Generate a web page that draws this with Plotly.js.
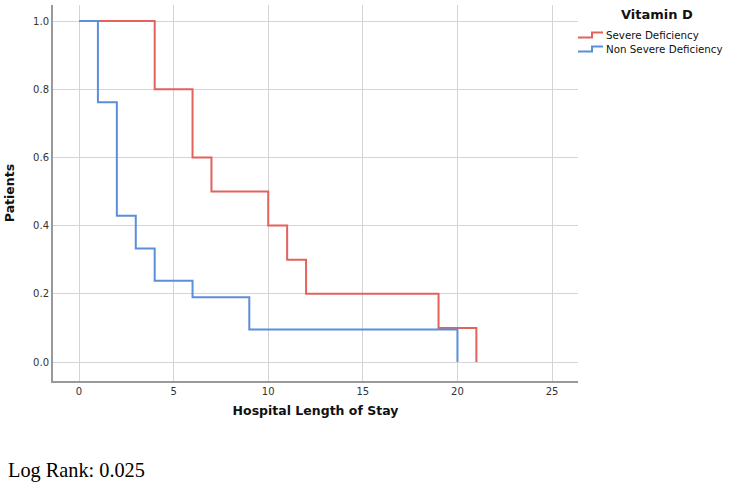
<!DOCTYPE html>
<html>
<head>
<meta charset="utf-8">
<script src="https://cdn.plot.ly/plotly-3.0.1.min.js"></script>
<style>
  html, body { margin: 0; padding: 0; background: #fff; }
  #chart { width: 740px; height: 488px; }
</style>
</head>
<body>
<div id="chart"></div>
<script>
// Kaplan-Meier style step data
const seriesNames = ["Severe Deficiency", "Non Severe Deficiency"];
const severeDays = [0, 4, 6, 7, 10, 11, 12, 19, 21];
const severeSurv = [1.0, 0.8, 0.6, 0.5, 0.4, 0.3, 0.2, 0.1, 0.0];
const nonSevereDays = [0, 1, 2, 3, 4, 6, 9, 20];
const nonSevereSurv = [1.0, 0.762, 0.429, 0.333, 0.238, 0.190, 0.095, 0.0];
const xTicks = [0, 5, 10, 15, 20, 25];
const yTicks = [0.0, 0.2, 0.4, 0.6, 0.8, 1.0];
const legendTitle = "Vitamin D";
const footnote = "Log Rank: 0.025";

const colors = ["#e3625c", "#5b8fd9"];
const font = "DejaVu Sans, Verdana, sans-serif";

const traces = [
  { x: severeDays, y: severeSurv, name: seriesNames[0], type: "scatter", mode: "lines",
    line: { shape: "hv", color: colors[0], width: 2 }, showlegend: false },
  { x: nonSevereDays, y: nonSevereSurv, name: seriesNames[1], type: "scatter", mode: "lines",
    line: { shape: "hv", color: colors[1], width: 2 }, showlegend: false }
];

// helper: pixel -> paper for custom legend
const L = 53, R = 578, T = 5, B = 381;
const px = v => (v - L) / (R - L);
const py = v => (B - v) / (B - T);

function stepIcon(cy, color) {
  const lo = py(cy + 2.5), hi = py(cy - 2.5);
  return {
    type: "path", xref: "paper", yref: "paper",
    path: `M ${px(578)} ${lo} L ${px(592)} ${lo} L ${px(592)} ${hi} L ${px(603)} ${hi}`,
    line: { color: color, width: 2 }
  };
}
const rows = [35, 49];

const layout = {
  width: 740, height: 488,
  margin: { l: L, r: 740 - R, t: T, b: 488 - B },
  paper_bgcolor: "#ffffff", plot_bgcolor: "#ffffff",
  font: { family: font, color: "#333", size: 10 },
  showlegend: false,
  xaxis: {
    range: [-1.374, 26.37], tickvals: xTicks, ticktext: xTicks.map(String),
    showgrid: true, gridcolor: "#d4d4d4", gridwidth: 1, zeroline: false,
    showline: true, linecolor: "#999", linewidth: 2, ticks: "",
    tickfont: { family: font, size: 10, color: "#333" },
    title: { text: "Hospital Length of Stay", font: { family: font, size: 12.5, color: "#111", weight: "bold" }, standoff: 10 },
    fixedrange: true
  },
  yaxis: {
    range: [-0.0557, 1.047], tickvals: yTicks, ticktext: yTicks.map(v => v.toFixed(1)),
    showgrid: true, gridcolor: "#d4d4d4", gridwidth: 1, zeroline: false,
    showline: true, linecolor: "#999", linewidth: 2, ticks: "",
    tickfont: { family: font, size: 10, color: "#333" },
    title: { text: "Patients", font: { family: font, size: 12.5, color: "#111", weight: "bold" }, standoff: 16 },
    fixedrange: true
  },
  shapes: [stepIcon(rows[0], colors[0]), stepIcon(rows[1], colors[1])],
  annotations: [
    { xref: "paper", yref: "paper", x: px(657), y: py(15), xanchor: "center", yanchor: "middle",
      text: "<b>" + legendTitle + "</b>", showarrow: false, font: { family: font, size: 13, color: "#111" } },
    { xref: "paper", yref: "paper", x: px(604), y: py(rows[0]), xanchor: "left", yanchor: "middle",
      text: seriesNames[0], showarrow: false, font: { family: font, size: 10.3, color: "#111" } },
    { xref: "paper", yref: "paper", x: px(604), y: py(rows[1]), xanchor: "left", yanchor: "middle",
      text: seriesNames[1], showarrow: false, font: { family: font, size: 10.3, color: "#111" } },
    { xref: "paper", yref: "paper", x: px(6), y: py(470), xanchor: "left", yanchor: "middle",
      text: footnote, showarrow: false, font: { family: "Liberation Serif, Times New Roman, serif", size: 20.3, color: "#000" } }
  ]
};

Plotly.newPlot("chart", traces, layout, { displayModeBar: false, staticPlot: true });
</script>
</body>
</html>
